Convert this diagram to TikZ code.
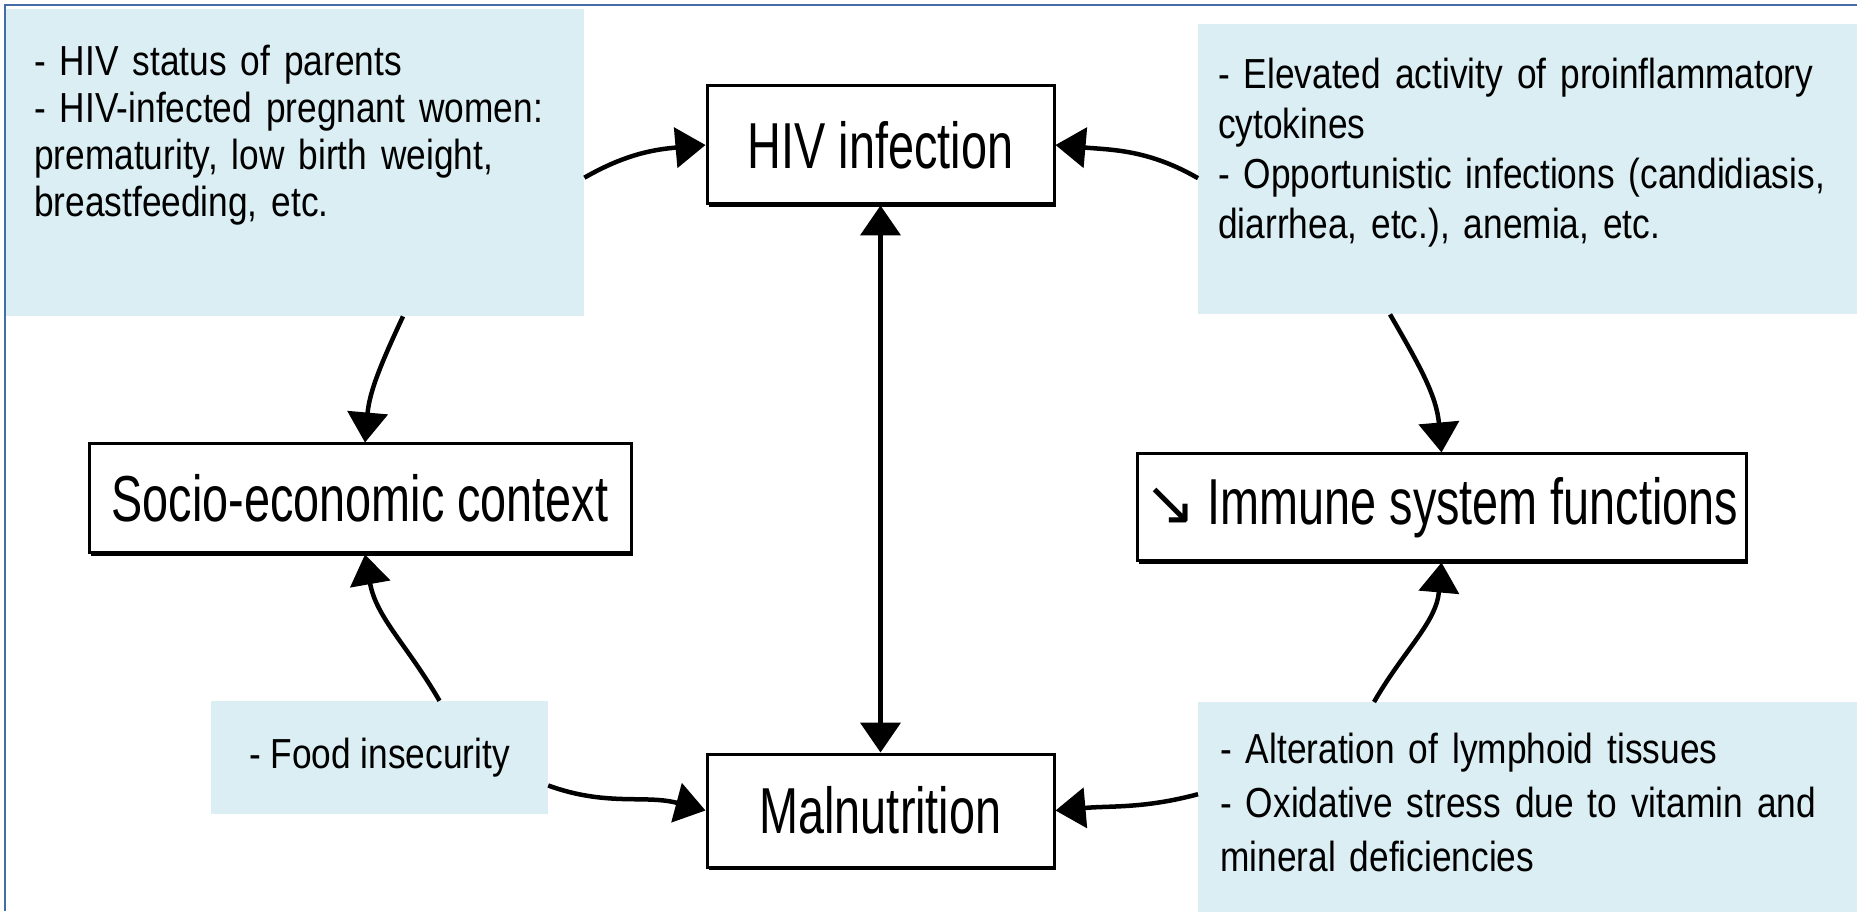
\documentclass[tikz,border=0pt]{standalone}
\usepackage{fontspec}
\setmainfont{Liberation Sans}
\newfontfamily\bigfont[FakeStretch=0.72]{Liberation Sans}
\newfontfamily\smallfont[FakeStretch=0.84]{Liberation Sans}
\newfontfamily\symfont{DejaVu Sans}
\usetikzlibrary{arrows.meta,shadows}
\definecolor{infoblue}{RGB}{218,238,243}
\definecolor{frameblue}{RGB}{68,108,166}
\tikzstyle{mb} = [rectangle, draw, fill=white, line width=3pt, inner sep=0pt,
    font=\bigfont\fontsize{65}{70}\selectfont,
    drop shadow={shadow xshift=1.5pt, shadow yshift=-3pt, fill=black, opacity=1}]
\tikzstyle{ib} = [rectangle, fill=infoblue, anchor=north west, align=left,
    inner ysep=0pt, font=\smallfont\fontsize{42}{47}\selectfont]
\tikzstyle{arr} = [line width=4.5pt, -{Triangle[width=40pt,length=30pt]}]
\tikzstyle{dbl} = [line width=4.5pt, {Triangle[width=40pt,length=30pt]}-{Triangle[width=40pt,length=30pt]}]

\begin{document}
\begin{tikzpicture}[x=1pt,y=1pt]
  \useasboundingbox (0,0) rectangle (1857,911);

  \node[ib,inner xsep=28pt,text width=522pt,text height=66pt,text depth=241pt] (tl) at (6,902)
    {- HIV status of parents\\- HIV-infected pregnant women:\\prematurity, low birth weight,\\breastfeeding, etc.};
  \node[ib,inner xsep=20pt,text width=640pt,text height=64pt,text depth=226pt,
    font=\smallfont\fontsize{42}{50}\selectfont] (tr) at (1198,887)
    {- Elevated activity of proinflammatory\\cytokines\\- Opportunistic infections (candidiasis,\\diarrhea, etc.), anemia, etc.};
  \node[ib,inner xsep=22pt,text width=640pt,text height=61pt,text depth=159pt,
    font=\smallfont\fontsize{42}{54}\selectfont] (br) at (1198,209)
    {- Alteration of lymphoid tissues\\- Oxidative stress due to vitamin and\\mineral deficiencies};
  \node[ib,anchor=center,align=center,minimum width=337pt,minimum height=113pt] (food) at (379.5,153.5)
    {- Food insecurity};

  \node[mb,minimum width=347pt,minimum height=118pt] (hiv) at (880.5,766) {HIV infection};
  \node[mb,minimum width=347pt,minimum height=113pt] (mal) at (880.5,100.5) {Malnutrition};
  \node[mb,minimum width=542pt,minimum height=109pt] (soc) at (360,412.5) {Socio-economic context};
  \node[mb,minimum width=609pt,minimum height=107pt] (imm) at (1441.5,403.5)
    {{\symfont\fontsize{62}{62}\selectfont ↘}\,Immune system functions};

  \draw[frameblue, line width=2.5pt] (5,0) -- (5,906) -- (1857,906);

  \path[arr] ([yshift=-15pt]tl.east) edge[out=30,in=185] (hiv.west);
  \path[arr] ([yshift=-9pt]tr.west) edge[out=150,in=-5] (hiv.east);
  \path[arr] ([xshift=397pt]tl.south west) edge[out=-115,in=85] ([xshift=5pt]soc.north);
  \path[arr] ([xshift=192pt]tr.south west) edge[out=-60,in=95] (imm.north);
  \path[dbl] (hiv) edge (mal);
  \path[arr] ([xshift=60pt]food.north) edge[out=120,in=-80] ([xshift=5pt]soc.south);
  \path[arr] ([yshift=-28pt]food.east) edge[out=-20,in=165] (mal.west);
  \path[arr] ([yshift=18pt]br.west) edge[out=195,in=5] (mal.east);
  \path[arr] ([xshift=176pt]br.north west) edge[out=60,in=-95] (imm.south);
\end{tikzpicture}
\end{document}
